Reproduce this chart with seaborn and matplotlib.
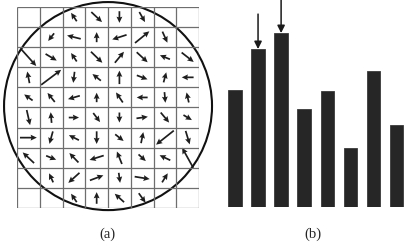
import numpy as np
import pandas as pd
import seaborn as sns
import matplotlib.pyplot as plt
from matplotlib.patches import Ellipse

sns.set_style("white")
plt.rcParams['font.family'] = ['Liberation Serif', 'DejaVu Serif']

# (a) gradient arrows per cell, 10 rows x 8 cols, (dx, dy) in cell units, nan = empty cell
n = np.nan
grad_u = [
    [n, n, -0.25, 0.47, 0.00, 0.25, n, n],
    [n, -0.26, -0.60, 0.00, -0.63, 0.63, 0.22, n],
    [0.69, 0.49, -0.25, 0.50, 0.40, 0.48, -0.44, 0.53],
    [-0.10, 0.88, -0.06, -0.37, 0.00, 0.47, 0.12, -0.52],
    [-0.37, -0.32, -0.52, 0.00, -0.30, -0.48, 0.04, -0.10],
    [0.15, -0.04, 0.45, 0.30, 0.00, 0.50, 0.37, 0.37],
    [0.74, -0.15, -0.44, 0.00, 0.37, 0.10, -0.78, 0.18],
    [-0.50, 0.44, -0.40, -0.62, -0.22, 0.32, -0.47, -0.49],
    [n, -0.18, -0.49, 0.59, 0.06, 0.66, 0.25, n],
    [n, n, -0.25, 0.00, -0.41, 0.30, n, n],
]
grad_v = [
    [n, n, 0.42, -0.50, -0.58, -0.50, n, n],
    [n, -0.38, 0.17, 0.50, -0.23, 0.58, -0.55, n],
    [-0.87, -0.33, 0.42, -0.55, 0.55, -0.50, 0.20, -0.47],
    [0.58, 0.75, -0.55, 0.33, 0.67, -0.20, 0.50, 0.00],
    [0.30, 0.45, -0.17, 0.47, 0.50, 0.00, -0.53, 0.50],
    [-0.75, 0.53, 0.00, -0.45, -0.50, 0.08, -0.50, -0.25],
    [0.00, -0.62, 0.25, -0.63, -0.33, 0.55, -0.70, -0.67],
    [0.53, -0.20, 0.47, -0.22, 0.62, -0.33, 0.25, 1.00],
    [n, 0.45, -0.50, 0.25, -0.50, -0.12, 0.45, n],
    [n, n, 0.42, 0.58, 0.42, -0.47, n, n],
]

# (b) orientation histogram
bins = ["b1", "b2", "b3", "b4", "b5", "b6", "b7", "b8"]
counts = [117, 158, 174, 98, 116, 59, 136, 82]
marked = [1, 2]  # bins pointed at by arrows

fig = plt.figure(figsize=(4.1, 2.42), dpi=100)

# ---- (a) grid of gradient arrows
ax1 = fig.add_axes([0.0415, 0.1405, 0.444, 0.8306])
U = np.array(grad_u)
V = np.array(grad_v)
nrows, ncols = U.shape
cols, rows = np.meshgrid(np.arange(ncols), np.arange(nrows))
X = cols + 0.5
Y = nrows - rows - 0.5
ok = ~np.isnan(U)
ax1.vlines(np.arange(ncols + 1), 0, nrows, color="#6e6e6e", lw=0.9)
ax1.hlines(np.arange(nrows + 1), 0, ncols, color="#6e6e6e", lw=0.9)
ax1.quiver(X[ok], Y[ok], U[ok], V[ok], angles="xy", scale_units="xy", scale=1,
           pivot="middle", color="#1e1e1e", width=0.0095,
           headwidth=3.4, headlength=3.6, headaxislength=3.2)
ax1.add_patch(Ellipse((4.0, 5.07), 9.14, 10.35, fill=False, ec="#111111",
                      lw=1.5, clip_on=False))
ax1.set_xlim(0, ncols)
ax1.set_ylim(0, nrows)
ax1.axis("off")

# ---- (b) histogram bars
ax2 = fig.add_axes([0.545, 0.1446, 0.450, 0.855])
df = pd.DataFrame({"bin": bins, "count": counts})
sns.barplot(data=df, x="bin", y="count", color="#262626", width=0.58,
            saturation=1, edgecolor="#3a3a3a", linewidth=0.6, ax=ax2)
for i in marked:
    ax2.annotate("", xy=(i, counts[i]), xytext=(i, counts[i] + 35),
                 arrowprops=dict(arrowstyle="-|>", color="#1a1a1a", lw=1.1,
                                 mutation_scale=11, shrinkA=0, shrinkB=0),
                 annotation_clip=False)
ax2.set_xlim(-0.5, len(bins) - 0.5)
ax2.set_ylim(0, 207)
ax2.axis("off")

fig.text(0.261, 0.03, "(a)", ha="center", va="center", fontsize=10.5)
fig.text(0.763, 0.03, "(b)", ha="center", va="center", fontsize=10.5)

fig.savefig("out.png", dpi=100)
